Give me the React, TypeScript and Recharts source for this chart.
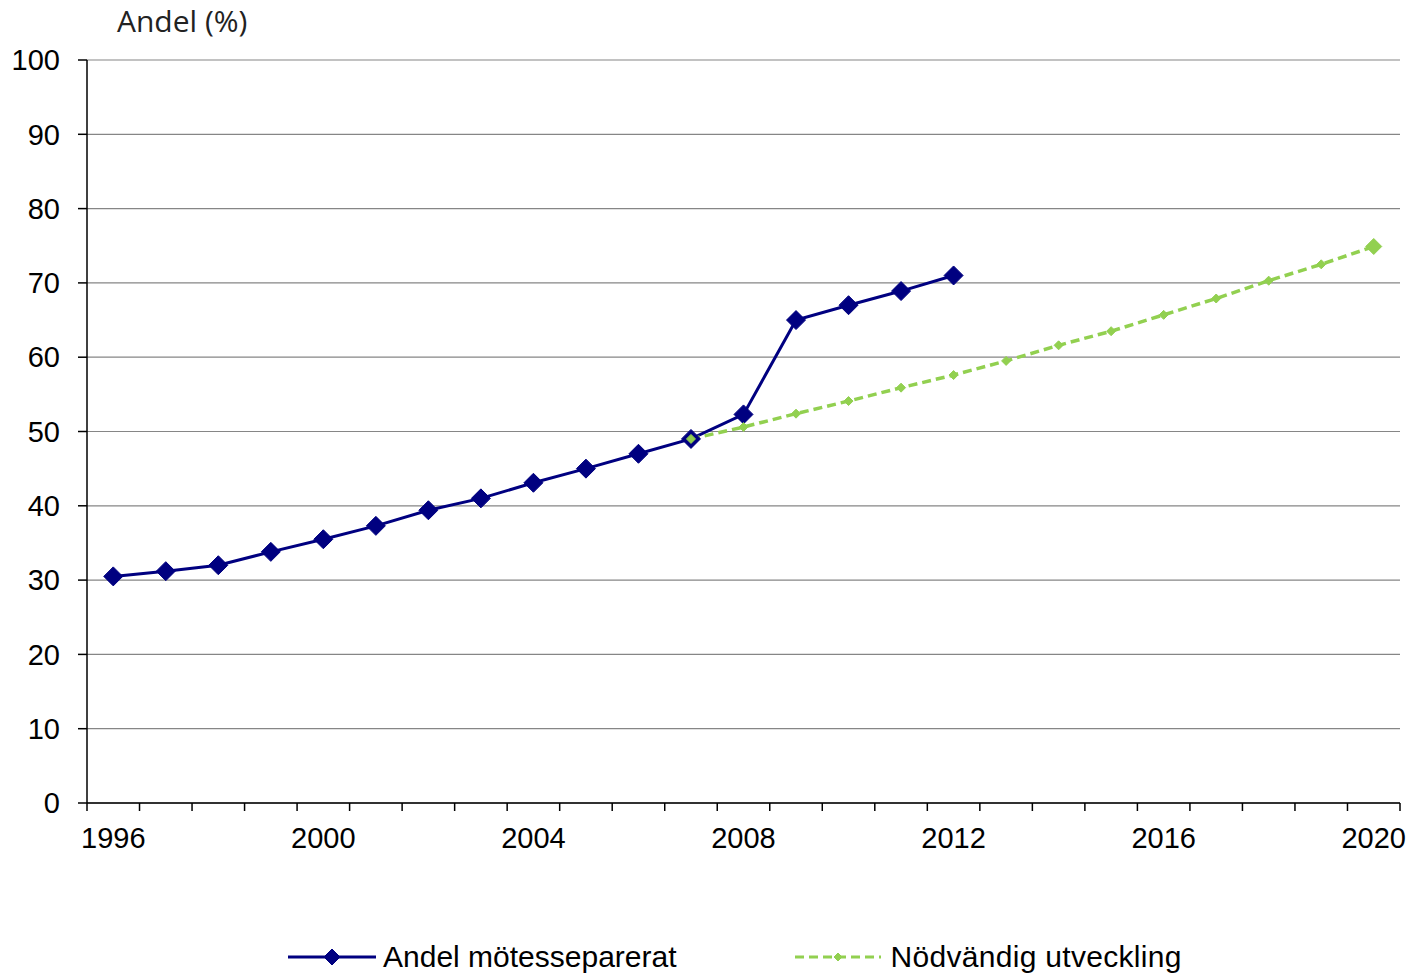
import { LineChart, Line, XAxis, YAxis, CartesianGrid, Legend } from 'recharts'

const years = [
  1996, 1997, 1998, 1999, 2000, 2001, 2002, 2003, 2004, 2005, 2006, 2007, 2008,
  2009, 2010, 2011, 2012, 2013, 2014, 2015, 2016, 2017, 2018, 2019, 2020,
]

// Andel mötesseparerat, 1996–2012
const actualShare = [
  30.5, 31.2, 32.0, 33.8, 35.5, 37.3, 39.4, 41.0, 43.1, 45.0, 47.0, 49.0, 52.3,
  65.0, 67.0, 68.9, 71.0,
]

// Nödvändig utveckling, 2007–2020
const requiredStart = 2007
const requiredShare = [
  49.0, 50.6, 52.4, 54.1, 55.9, 57.6, 59.5, 61.6, 63.5, 65.7, 67.9, 70.3, 72.5, 74.9,
]

const yTicks = [0, 10, 20, 30, 40, 50, 60, 70, 80, 90, 100]
const yearLabels = [1996, 2000, 2004, 2008, 2012, 2016, 2020]

const BLUE = '#000080'
const GREEN = '#92D050'
const GRID = '#868686'
const TICK_FONT = '"Liberation Sans", Arial, sans-serif'

const chartData = years.map((year, i) => ({
  year,
  actual: i < actualShare.length ? actualShare[i] : null,
  required: year >= requiredStart ? requiredShare[year - requiredStart] : null,
}))

// tick marks sit on the boundaries between years
const boundaries = [...years.map(y => y - 0.5), years[years.length - 1] + 0.5]
const domain = [boundaries[0], boundaries[boundaries.length - 1]]

const diamond = (cx: number, cy: number, r: number, fill: string, key: string) => (
  <polygon
    key={key}
    points={`${cx},${cy - r} ${cx + r},${cy} ${cx},${cy + r} ${cx - r},${cy}`}
    fill={fill}
    stroke={fill}
    strokeWidth={1}
  />
)

const ActualDot = (props: any) => {
  const { cx, cy, index } = props
  if (cx == null || cy == null) return <g key={`a-${index}`} />
  return diamond(cx, cy, 9.5, BLUE, `a-${index}`)
}

const RequiredDot = (props: any) => {
  const { cx, cy, index } = props
  if (cx == null || cy == null) return <g key={`r-${index}`} />
  const last = index === years.length - 1
  return diamond(cx, cy, last ? 8 : 4.5, GREEN, `r-${index}`)
}

const LegendContent = () => (
  <div
    style={{
      display: 'flex',
      alignItems: 'center',
      paddingLeft: 288,
      fontFamily: TICK_FONT,
      fontSize: 30,
      color: '#000',
      whiteSpace: 'nowrap',
    }}
  >
    <svg width={88} height={20}>
      <line x1={0} y1={10} x2={88} y2={10} stroke={BLUE} strokeWidth={3} />
      {diamond(44, 10, 8, BLUE, 'lb')}
    </svg>
    <span style={{ marginLeft: 7 }}>Andel mötesseparerat</span>
    <svg width={86} height={20} style={{ marginLeft: 118 }}>
      <line x1={0} y1={10} x2={86} y2={10} stroke={GREEN} strokeWidth={3} strokeDasharray="9 5" />
      {diamond(43, 10, 4, GREEN, 'lg')}
    </svg>
    <span style={{ marginLeft: 10, letterSpacing: 0.3 }}>Nödvändig utveckling</span>
  </div>
)

export default function App() {
  return (
    <div style={{ position: 'absolute', left: 0, top: 0, width: 1413, height: 974, background: '#fff' }}>
      <LineChart
        width={1413}
        height={974}
        data={chartData}
        margin={{ top: 60, right: 13, bottom: 169, left: 0 }}
      >
        <CartesianGrid
          xAxisId="year"
          vertical={false}
          stroke={GRID}
          strokeWidth={1.2}
        />
        <XAxis
          xAxisId="marks"
          type="number"
          dataKey="year"
          domain={domain}
          ticks={boundaries}
          interval={0}
          height={1}
          tickSize={8}
          tickFormatter={() => ''}
          stroke="#000"
          strokeWidth={1.5}
          allowDataOverflow
        />
        <XAxis
          xAxisId="year"
          type="number"
          dataKey="year"
          domain={domain}
          ticks={yearLabels}
          interval={0}
          height={1}
          axisLine={false}
          tickLine={false}
          tickSize={6}
          tickMargin={17}
          tick={{ fill: '#000', fontSize: 29, fontFamily: TICK_FONT }}
          allowDataOverflow
        />
        <YAxis
          type="number"
          domain={[0, 100]}
          ticks={yTicks}
          interval={0}
          width={87}
          tickSize={9}
          tickMargin={18}
          stroke="#000"
          strokeWidth={1.5}
          tick={{ fill: '#000', fontSize: 29, fontFamily: TICK_FONT }}
          label={{
            content: ({ viewBox }: any) => (
              <text
                x={viewBox.x + viewBox.width + 30}
                y={viewBox.y - 28}
                fill="#222"
                fontSize={30}
                fontFamily='"Open Sans", sans-serif'
              >
                Andel (%)
              </text>
            ),
          }}
        />
        <Legend
          layout="horizontal"
          verticalAlign="middle"
          align="center"
          content={LegendContent}
          wrapperStyle={{ top: 940, left: 0, width: 1413 }}
        />
        <Line
          xAxisId="year"
          type="linear"
          dataKey="actual"
          stroke={BLUE}
          strokeWidth={3}
          dot={ActualDot}
          activeDot={false}
          connectNulls={false}
          isAnimationActive={false}
        />
        <Line
          xAxisId="year"
          type="linear"
          dataKey="required"
          stroke={GREEN}
          strokeWidth={3.5}
          strokeDasharray="9 5"
          dot={RequiredDot}
          activeDot={false}
          connectNulls={false}
          isAnimationActive={false}
        />
      </LineChart>
    </div>
  )
}
